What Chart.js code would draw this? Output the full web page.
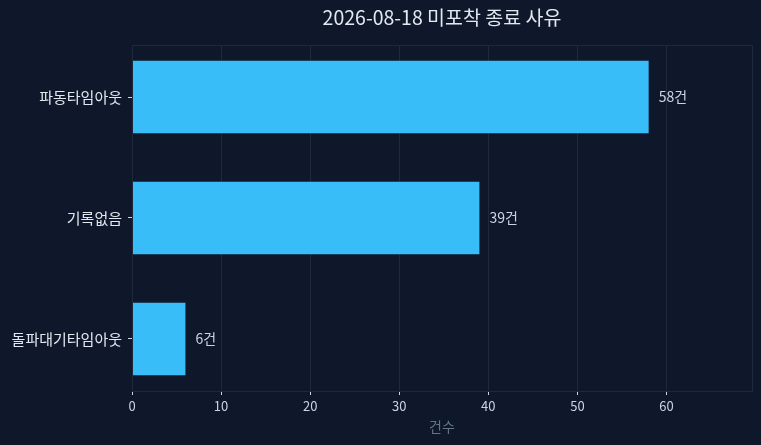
<!DOCTYPE html>
<html>
<head>
<meta charset="utf-8">
<script src="https://cdn.jsdelivr.net/npm/chart.js@4/dist/chart.umd.min.js"></script>
<style>
html,body{margin:0;padding:0;background:#0f172a;}
#wrap{width:761px;height:445px;}
</style>
</head>
<body>
<div id="wrap"><canvas id="c"></canvas></div>
<script>
const categories = ['파동타임아웃', '기록없음', '돌파대기타임아웃'];
const counts = [58, 39, 6];
const xTicks = [0, 10, 20, 30, 40, 50, 60];
const titleText = '2026-08-18 미포착 종료 사유';
const xTitle = '건수';
const unit = '건';

const FONT = "'Noto Sans CJK KR', 'Noto Sans', sans-serif";
const GRID = '#1e293b';
const TICK = '#cbd5e1';

const frame = {
  id: 'frame',
  afterDatasetsDraw(chart) {
    const a = chart.chartArea, ctx = chart.ctx;
    ctx.save();
    ctx.strokeStyle = GRID;
    ctx.lineWidth = 1;
    ctx.strokeRect(Math.round(a.left) + 0.5, Math.round(a.top) + 0.5, Math.round(a.right - a.left), Math.round(a.bottom - a.top));
    ctx.restore();
  },
  afterDraw(chart) {
    const ctx = chart.ctx;
    const a = chart.chartArea;
    const meta = chart.getDatasetMeta(0);
    ctx.save();
    ctx.fillStyle = TICK;
    ctx.font = '14px ' + FONT;
    ctx.textAlign = 'left';
    ctx.textBaseline = 'middle';
    meta.data.forEach((bar, i) => {
      ctx.fillText(counts[i] + unit, bar.x + 10, bar.y);
    });
    // title centred over the plot area
    ctx.fillStyle = '#e2e8f0';
    ctx.font = '19.5px ' + FONT;
    ctx.textAlign = 'center';
    ctx.textBaseline = 'middle';
    ctx.fillText(titleText, (a.left + a.right) / 2, 18);
    ctx.restore();
  }
};

new Chart(document.getElementById('c'), {
  type: 'bar',
  data: {
    datasets: [{
      data: counts.map((v, i) => ({x: v, y: i})),
      backgroundColor: '#38bdf8',
      borderWidth: 0,
      barPercentage: 1,
      categoryPercentage: 0.6
    }]
  },
  plugins: [frame],
  options: {
    indexAxis: 'y',
    responsive: true,
    maintainAspectRatio: false,
    animation: false,
    devicePixelRatio: 1,
    layout: {padding: {left: 0, right: 9, top: 45, bottom: 10}},
    plugins: {
      legend: {display: false},
      tooltip: {enabled: false},
      title: {display: false}
    },
    scales: {
      x: {
        type: 'linear',
        min: 0,
        max: 69.6,
        afterBuildTicks(s) { s.ticks = xTicks.map(v => ({value: v})); },
        afterFit(s) { s.height = 44; },
        grid: {color: GRID, tickColor: TICK, tickLength: 4, drawTicks: true},
        border: {display: false},
        ticks: {color: TICK, font: {family: FONT, size: 13}, padding: 3, maxRotation: 0},
        title: {display: true, text: xTitle, color: '#64748b', font: {family: FONT, size: 14}, padding: {top: 0, bottom: 0}}
      },
      y: {
        type: 'linear',
        reverse: true,
        offset: false,
        min: -0.43,
        max: 2.43,
        afterBuildTicks(s) { s.ticks = categories.map((c, i) => ({value: i})); },
        afterFit(s) { s.width = 132; },
        grid: {display: true, offset: false, drawOnChartArea: false, tickColor: TICK, tickLength: 4},
        border: {display: false},
        ticks: {
          color: '#e2e8f0',
          font: {family: FONT, size: 15},
          padding: 6,
          callback: (v) => categories[v] !== undefined ? categories[v] : ''
        }
      }
    }
  }
});
</script>
</body>
</html>
